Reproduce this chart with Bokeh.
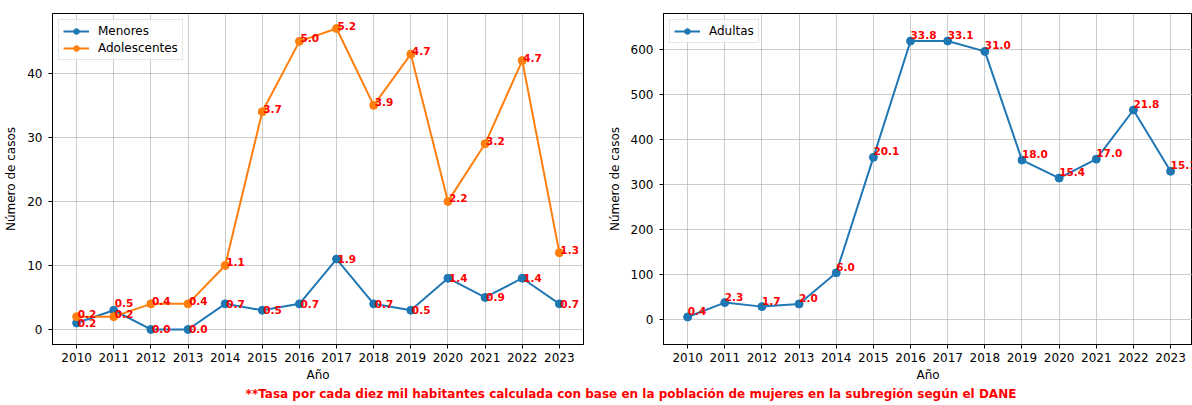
from bokeh.plotting import figure
from bokeh.models import Range1d, FixedTicker, Legend, LegendItem, ColumnDataSource, Div
from bokeh.layouts import row, column
from bokeh.embed import file_html
from bokeh.resources import INLINE
from bokeh.core.properties import value

# ---------------- data ----------------
years = [2010, 2011, 2012, 2013, 2014, 2015, 2016, 2017, 2018, 2019, 2020, 2021, 2022, 2023]
menores = [1, 3, 0, 0, 4, 3, 4, 11, 4, 3, 8, 5, 8, 4]
menores_tasa = [0.2, 0.5, 0.0, 0.0, 0.7, 0.5, 0.7, 1.9, 0.7, 0.5, 1.4, 0.9, 1.4, 0.7]
adolescentes = [2, 2, 4, 4, 10, 34, 45, 47, 35, 43, 20, 29, 42, 12]
adolescentes_tasa = [0.2, 0.2, 0.4, 0.4, 1.1, 3.7, 5.0, 5.2, 3.9, 4.7, 2.2, 3.2, 4.7, 1.3]
adultas = [6, 38, 29, 35, 104, 360, 618, 618, 595, 354, 314, 356, 465, 329]
adultas_tasa = [0.4, 2.3, 1.7, 2.0, 6.0, 20.1, 33.8, 33.1, 31.0, 18.0, 15.4, 17.0, 21.8, 15.1]
left_yticks = [0, 10, 20, 30, 40]
right_yticks = [0, 100, 200, 300, 400, 500, 600]
x_label = "Año"
y_label = "Número de casos"
footnote = "**Tasa por cada diez mil habitantes calculada con base en la población de mujeres en la subregión según el DANE"

BLUE = "#1f77b4"
ORANGE = "#ff7f0e"
FONT = "DejaVu Sans"


def style(p, yticks):
    p.outline_line_color = "black"
    p.outline_line_width = 1
    for ax in (p.xaxis, p.yaxis):
        ax.axis_line_color = "black"
        ax.major_tick_line_color = "black"
        ax.major_tick_out = 4
        ax.major_tick_in = 0
        ax.minor_tick_line_color = None
        ax.major_label_text_font = FONT
        ax.major_label_text_font_size = "12px"
        ax.major_label_text_color = "black"
        ax.axis_label_text_font = FONT
        ax.axis_label_text_font_size = "12px"
        ax.axis_label_text_font_style = "normal"
        ax.axis_label_text_color = "black"
    p.xaxis.ticker = FixedTicker(ticks=years)
    p.yaxis.ticker = FixedTicker(ticks=yticks)
    p.xaxis.major_label_standoff = 4
    p.yaxis.major_label_standoff = 6
    p.xaxis.axis_label_standoff = 3
    p.yaxis.axis_label_standoff = 6
    p.xaxis.axis_label = x_label
    p.yaxis.axis_label = y_label
    for g in (p.xgrid, p.ygrid):
        g.grid_line_color = "#b0b0b0"
        g.grid_line_alpha = 0.65
        g.grid_line_width = 1


def legend(p, items):
    lg = Legend(items=items, location="top_left")
    lg.margin = 6
    lg.padding = 4
    lg.spacing = 3
    lg.glyph_width = 26
    lg.glyph_height = 14
    lg.label_height = 14
    lg.label_standoff = 9
    lg.label_text_font = FONT
    lg.label_text_font_size = "12px"
    lg.label_text_color = "black"
    lg.border_line_color = "#cccccc"
    lg.background_fill_alpha = 0.8
    p.add_layout(lg)


# ---------------- left plot ----------------
p1 = figure(width=600, height=384, x_range=Range1d(2009.35, 2023.65),
            y_range=Range1d(-2.35, 49.35), output_backend="svg", toolbar_location=None,
            min_border_left=52, min_border_right=17, min_border_top=13, min_border_bottom=38)
style(p1, left_yticks)

l1 = p1.line(years, menores, line_color=BLUE, line_width=2)
s1 = p1.scatter(years, menores, size=8, fill_color=BLUE, line_color=BLUE)
l2 = p1.line(years, adolescentes, line_color=ORANGE, line_width=2)
s2 = p1.scatter(years, adolescentes, size=8, fill_color=ORANGE, line_color=ORANGE)

src_m = ColumnDataSource(dict(
    x=years, y=menores, t=[f"{v:.1f}" for v in menores_tasa],
    yoff=[-7 if m > a else 0 for m, a in zip(menores, adolescentes)]))
src_a = ColumnDataSource(dict(
    x=years, y=adolescentes, t=[f"{v:.1f}" for v in adolescentes_tasa]))

p1.text(x="x", y="y", text="t", source=src_m, text_color="red", text_font=value(FONT),
        text_font_style="bold", text_font_size="10.5px", text_align="left",
        text_baseline="middle", x_offset=1, y_offset="yoff")
p1.text(x="x", y="y", text="t", source=src_a, text_color="red", text_font=value(FONT),
        text_font_style="bold", text_font_size="10.5px", text_align="left",
        text_baseline="alphabetic", x_offset=1, y_offset=-3)

legend(p1, [LegendItem(label="Menores", renderers=[l1, s1]),
            LegendItem(label="Adolescentes", renderers=[l2, s2])])

# ---------------- right plot ----------------
p2 = figure(width=592, height=384, x_range=Range1d(2009.35, 2023.59),
            y_range=Range1d(-55, 679), output_backend="svg", toolbar_location=None,
            min_border_left=63, min_border_right=0, min_border_top=13, min_border_bottom=38)
style(p2, right_yticks)

l3 = p2.line(years, adultas, line_color=BLUE, line_width=2)
s3 = p2.scatter(years, adultas, size=8, fill_color=BLUE, line_color=BLUE)
src_ad = ColumnDataSource(dict(x=years, y=adultas, t=[f"{v:.1f}" for v in adultas_tasa]))
p2.text(x="x", y="y", text="t", source=src_ad, text_color="red", text_font=value(FONT),
        text_font_style="bold", text_font_size="10.5px", text_align="left",
        text_baseline="alphabetic", x_offset=0, y_offset=-6)

legend(p2, [LegendItem(label="Adultas", renderers=[l3, s3])])

note = Div(text=footnote, width=1000, height=21, margin=(0, 0, 0, 131),
           styles={"color": "red", "font-weight": "bold", "font-size": "12px",
                   "font-family": FONT, "text-align": "center", "line-height": "21px",
                   "white-space": "nowrap"})

layout = column(row(p1, p2), note)

open("out.html", "w").write(file_html(layout, INLINE))
